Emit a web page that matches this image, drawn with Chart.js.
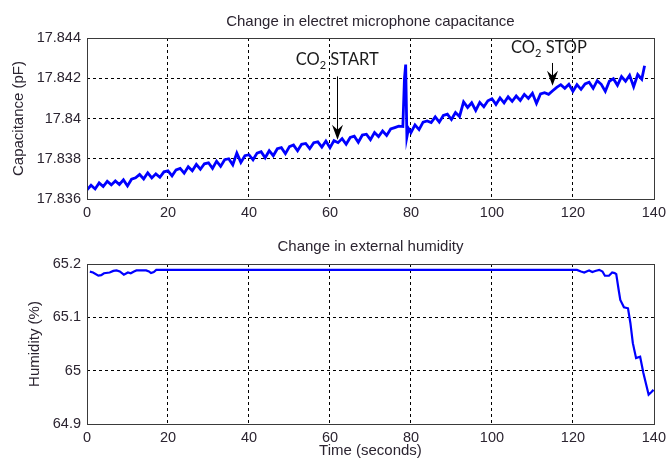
<!DOCTYPE html>
<html><head><meta charset="utf-8">
<script src="https://cdn.jsdelivr.net/npm/chart.js@4/dist/chart.umd.min.js"></script>
<style>
html,body{margin:0;padding:0;background:#fff;}
#wrap{position:relative;width:671px;height:460px;overflow:hidden;}
canvas{position:absolute;left:0;}
</style></head><body>
<div id="wrap">
<canvas id="c1" width="671" height="230" style="top:0;width:671px;height:230px"></canvas>
<canvas id="c2" width="671" height="230" style="top:230px;width:671px;height:230px"></canvas>
</div>
<script>
// ---------- data ----------
const capTimes = [
  0,1,2,3,4,5,6,7,8,9,
  10,11,12,13,14,15,16,17,18,19,
  20,21,22,23,24,25,26,27,28,29,
  30,31,32,33,34,35,36,37,38,39,
  40,41,42,43,44,45,46,47,48,49,
  50,51,52,53,54,55,56,57,58,59,
  60,61,62,63,64,65,66,67,68,69,
  70,71,72,73,74,75,76,77,78,
  78.4,78.7,79.0,79.4,
  80,81,82,83,84,85,86,87,88,89,
  90,91,92,93,94,95,96,97,98,99,
  100,101,102,103,104,105,106,107,108,109,
  110,111,112,113,114,115,116,117,118,119,
  120,121,122,123,124,125,126,127,128,129,
  130,131,132,133,134,135,136,
  137,137.7
];
const capValues = [
  17.83645,17.83668,17.83650,17.83680,17.83662,17.83688,17.83670,17.83690,17.83672,17.83695,
  17.83665,17.83698,17.83705,17.83722,17.83700,17.83730,17.83705,17.83725,17.83708,17.83735,
  17.83740,17.83715,17.83745,17.83752,17.83728,17.83760,17.83740,17.83772,17.83748,17.83775,
  17.83780,17.83752,17.83788,17.83762,17.83795,17.83800,17.83770,17.83828,17.83782,17.83815,
  17.83820,17.83795,17.83828,17.83835,17.83805,17.83840,17.83815,17.83850,17.83855,17.83825,
  17.83860,17.83868,17.83840,17.83872,17.83876,17.83850,17.83880,17.83884,17.83858,17.83888,
  17.83855,17.83890,17.83880,17.83900,17.83872,17.83906,17.83912,17.83882,17.83918,17.83922,
  17.83895,17.83930,17.83910,17.83938,17.83916,17.83948,17.83955,17.83962,17.83960,
  17.84200,17.84268,17.83908,17.83950,
  17.83930,17.83968,17.83945,17.83982,17.83988,17.83980,17.84008,17.83982,17.84015,17.84022,
  17.83995,17.84030,17.84010,17.84082,17.84055,17.84078,17.84040,17.84080,17.84058,17.84088,
  17.84098,17.84070,17.84102,17.84078,17.84108,17.84085,17.84112,17.84090,17.84120,17.84100,
  17.84125,17.84075,17.84122,17.84128,17.84120,17.84138,17.84155,17.84168,17.84150,17.84170,
  17.84135,17.84168,17.84145,17.84172,17.84180,17.84150,17.84188,17.84170,17.84135,17.84185,
  17.84198,17.84165,17.84208,17.84185,17.84215,17.84158,17.84218,
  17.84195,17.84262
];
const humTimes = [
  0.7,1.5,2.8,3.5,4.2,5.6,6.5,7.3,8.1,9.1,10.1,10.8,11.6,12.2,14.6,15.3,15.8,16.5,17.1,
  121,122,122.8,123.5,124,124.8,125.5,126.5,127.3,127.9,128.9,129.7,130.3,130.7,
  131.3,131.7,132.6,133.6,134.2,134.8,135.6,136.6,137.4,138.7,139.4,139.9
];
const humValues = [
  65.1856,65.1840,65.1781,65.1790,65.1826,65.1840,65.1870,65.1880,65.1860,65.1800,65.1840,65.1826,65.1860,65.1880,65.1880,65.1860,65.1830,65.1850,65.1888,
  65.1888,65.1860,65.1840,65.1865,65.1880,65.1850,65.1870,65.1890,65.1860,65.1780,65.1780,65.1840,65.1830,65.1810,
  65.1513,65.1326,65.1190,65.1170,65.0890,65.0516,65.0235,65.0260,64.9955,64.9550,64.9600,64.9640
];
const xTicks = [0,20,40,60,80,100,120,140];
const xTickLabels = ['0','20','40','60','80','100','120','140'];
const capTicks = [17.836,17.838,17.840,17.842,17.844];
const capTickLabels = ['17.836','17.838','17.84','17.842','17.844'];
const humTicks = [64.9,65.0,65.1,65.2];
const humTickLabels = ['64.9','65','65.1','65.2'];
const chartTitles = ['Change in electret microphone capacitance','Change in external humidity'];
const yTitles = ['Capacitance (pF)','Humidity (%)'];
const xTitle = 'Time (seconds)';
const notes = [
  {main:'CO', sub:'2', rest:' START', t:61.8, from:17.84209, to:17.83894, lt:61.8, ly:17.84292},
  {main:'CO', sub:'2', rest:' STOP',  t:114.8, from:17.84276, to:17.84163, lt:114.1, ly:17.84352}
];

// ---------- styling ----------
const FONT = "'Liberation Sans', Arial, sans-serif";
const TXT = '#2b2430';
const LINE = '#0000ff';

function gridColor(ctx){
  const s = ctx.scale, v = ctx.tick && ctx.tick.value;
  if (v === undefined) return 'rgba(0,0,0,0)';
  return (Math.abs(v - s.min) < 1e-9 || Math.abs(v - s.max) < 1e-9) ? 'rgba(0,0,0,0)' : '#000';
}

const framePlugin = {
  id: 'frame',
  afterDraw(chart, args, opts) {
    const {ctx, chartArea: a} = chart;
    ctx.save();
    ctx.strokeStyle = '#3a3a3a';
    ctx.lineWidth = 1;
    ctx.strokeRect(Math.round(a.left) + 0.5, Math.round(a.top) + 0.5,
                   Math.round(a.right - a.left), Math.round(a.bottom - a.top));
    // title
    ctx.fillStyle = TXT;
    ctx.font = '15px ' + FONT;
    ctx.textAlign = 'center';
    ctx.textBaseline = 'middle';
    ctx.fillText(opts.title, (a.left + a.right) / 2, opts.titleY);
    // annotations
    const xs = chart.scales.x, ys = chart.scales.y;
    (opts.notes || []).forEach(n => {
      const x = Math.round(xs.getPixelForValue(n.t)) + 0.5;
      const y0 = ys.getPixelForValue(n.from), y1 = ys.getPixelForValue(n.to);
      ctx.strokeStyle = '#000'; ctx.lineWidth = 1;
      ctx.beginPath(); ctx.moveTo(x, y0); ctx.lineTo(x, y1 - 8); ctx.stroke();
      ctx.fillStyle = '#000';
      ctx.beginPath();
      ctx.moveTo(x, y1); ctx.lineTo(x - 5.5, y1 - 15); ctx.lineTo(x, y1 - 10); ctx.lineTo(x + 5.5, y1 - 15);
      ctx.closePath(); ctx.fill();
      const lx = xs.getPixelForValue(n.lt), ly = ys.getPixelForValue(n.ly);
      const mf = "16.5px Lato, 'Open Sans', sans-serif", sf = "11px Lato, 'Open Sans', sans-serif";
      ctx.font = mf; const w1 = ctx.measureText(n.main).width, w3 = ctx.measureText(n.rest).width;
      ctx.font = sf; const w2 = ctx.measureText(n.sub).width;
      let sx = lx - (w1 + w2 + w3) / 2;
      ctx.fillStyle = '#1a1a1a'; ctx.textAlign = 'left'; ctx.textBaseline = 'middle';
      ctx.font = mf; ctx.fillText(n.main, sx, ly); sx += w1;
      ctx.font = sf; ctx.fillText(n.sub, sx, ly + 6); sx += w2;
      ctx.font = mf; ctx.fillText(n.rest, sx, ly);
    });
    ctx.restore();
  }
};

function makeChart(id, times, values, cfg) {
  const pts = times.map((t, i) => ({x: t, y: values[i]}));
  return new Chart(document.getElementById(id), {
    type: 'line',
    data: { datasets: [{ data: pts, borderColor: LINE, borderWidth: cfg.lw, pointRadius: 0, tension: 0, fill: false, borderJoinStyle: 'miter' }] },
    plugins: [framePlugin],
    options: {
      responsive: false, animation: false, devicePixelRatio: 1,
      layout: { padding: { top: cfg.top, right: 12, left: 0, bottom: 0 } },
      plugins: { legend: { display: false }, tooltip: { enabled: false },
                 frame: { title: cfg.title, titleY: cfg.titleY, notes: cfg.notes } },
      scales: {
        x: {
          type: 'linear', min: 0, max: 140,
          afterBuildTicks: s => { s.ticks = xTicks.map(v => ({value: v})); },
          afterFit: s => { s.height = cfg.xh; },
          ticks: { color: TXT, font: { family: FONT, size: 14.5 }, padding: 5, maxRotation: 0,
                   callback: (v, i) => xTickLabels[i] },
          grid: { color: gridColor, lineWidth: 1, drawTicks: false },
          border: { display: false, dash: [3, 3] },
          title: { display: !!cfg.xTitle, text: cfg.xTitle || '', color: TXT, font: { family: FONT, size: 15 }, padding: 0 }
        },
        y: {
          type: 'linear', min: cfg.ymin, max: cfg.ymax,
          afterBuildTicks: s => { s.ticks = cfg.yTicks.map(v => ({value: v})); },
          afterFit: s => { s.width = 87; },
          ticks: { color: TXT, font: { family: FONT, size: 14.5 }, padding: 6,
                   callback: (v, i) => cfg.yLabels[i] },
          grid: { color: gridColor, lineWidth: 1, drawTicks: false },
          border: { display: false, dash: [3, 3] },
          title: { display: true, text: cfg.yTitle, color: TXT, font: { family: FONT, size: 15 }, padding: { top: cfg.ytp, bottom: 0 } }
        }
      }
    }
  });
}

makeChart('c1', capTimes, capValues, {
  lw: 2.8, top: 38, xh: 31, ymin: 17.836, ymax: 17.844, yTicks: capTicks, yLabels: capTickLabels,
  yTitle: yTitles[0], ytp: 10, title: chartTitles[0], titleY: 22, notes: notes
});
makeChart('c2', humTimes, humValues, {
  lw: 2.2, top: 34, xh: 36, ymin: 64.9, ymax: 65.2, yTicks: humTicks, yLabels: humTickLabels,
  yTitle: yTitles[1], ytp: 26, title: chartTitles[1], titleY: 17, xTitle: xTitle, notes: []
});
</script>
</body></html>
